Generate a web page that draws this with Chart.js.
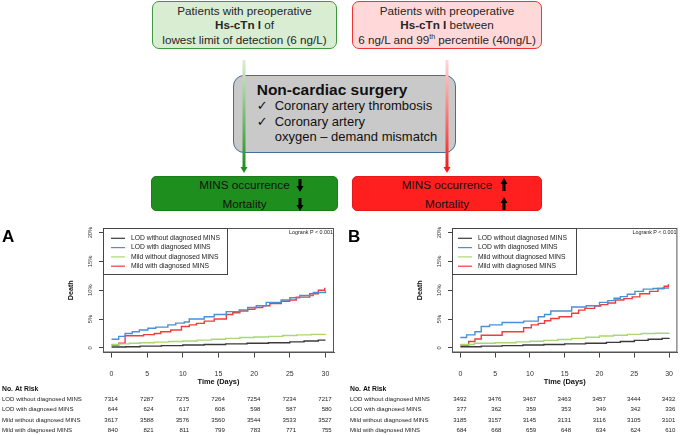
<!DOCTYPE html>
<html>
<head>
<meta charset="utf-8">
<script src="https://cdn.jsdelivr.net/npm/chart.js@4.4.0/dist/chart.umd.min.js"></script>
<style>
  body { margin: 0; background: #fff; font-family: "Liberation Sans", Arial, sans-serif; }
  #page { position: relative; width: 685px; height: 435px; overflow: hidden; }
  .box { position: absolute; box-sizing: border-box; }
  .ln { position: absolute; left: 0; right: 0; text-align: center; white-space: nowrap; font-size: 11.7px; line-height: 14.2px; color: #262626; }
  .mid { position: absolute; white-space: nowrap; color: #111; }
  .res { position: absolute; left: 0; right: 0; text-align: center; white-space: nowrap; font-size: 11.7px; line-height: 16px; color: #111; }
  sup { font-size: 7px; line-height: 0; }
  canvas { position: absolute; top: 225px; }
</style>
</head>
<body>
<div id="page">
  <!-- top diagram -->
  <div class="box" style="left:152px;top:1px;width:185px;height:48px;background:#d9edd3;border:1.3px solid #3c9a3c;border-radius:7px;">
    <div class="ln" style="top:2.3px">Patients with preoperative</div>
    <div class="ln" style="top:16.3px"><b>Hs-cTn I</b> of</div>
    <div class="ln" style="top:30.6px">lowest limit of detection (6 ng/L)</div>
  </div>
  <div class="box" style="left:352px;top:1px;width:190px;height:48px;background:#ffd9d9;border:1.3px solid #ee3535;border-radius:7px;">
    <div class="ln" style="top:2.3px">Patients with preoperative</div>
    <div class="ln" style="top:16.3px"><b>Hs-cTn I</b> between</div>
    <div class="ln" style="top:30.6px">6 ng/L and 99<sup>th</sup> percentile (40ng/L)</div>
  </div>
  <div class="box" style="left:233px;top:75px;width:223px;height:78px;background:#c9c9c9;border:1.3px solid #41709f;border-radius:11px;">
    <div class="mid" style="left:22.7px;top:4.7px;font-size:15.5px;line-height:18px;font-weight:bold;">Non-cardiac surgery</div>
    <div class="mid" style="left:22.7px;top:22px;font-size:13px;line-height:15.5px;font-family:'DejaVu Sans';">✓</div>
    <div class="mid" style="left:40.7px;top:22px;font-size:13px;line-height:15.5px;">Coronary artery thrombosis</div>
    <div class="mid" style="left:22.7px;top:38px;font-size:13px;line-height:15.5px;font-family:'DejaVu Sans';">✓</div>
    <div class="mid" style="left:40.7px;top:38px;font-size:13px;line-height:15.5px;">Coronary artery</div>
    <div class="mid" style="left:40.7px;top:53px;font-size:13px;line-height:15.5px;">oxygen – demand mismatch</div>
  </div>
  <div class="box" style="left:151px;top:176px;width:187px;height:35px;background:#1e8e1e;border:1px solid #1a7d1a;border-radius:5px;">
    <div class="res" style="top:0px">MINS occurrence</div>
    <div class="res" style="top:19px">Mortality</div>
  </div>
  <div class="box" style="left:352px;top:176px;width:190px;height:35px;background:#ff1f1f;border:1px solid #e81818;border-radius:5px;">
    <div class="res" style="top:0px">MINS occurrence</div>
    <div class="res" style="top:19px">Mortality</div>
  </div>
  <svg width="685" height="220" style="position:absolute;left:0;top:0;pointer-events:none;">
    <defs>
      <linearGradient id="gg" x1="0" y1="0" x2="0" y2="1">
        <stop offset="0" stop-color="#d9eed3"/>
        <stop offset="1" stop-color="#1f8f1f"/>
      </linearGradient>
      <linearGradient id="rg" x1="0" y1="0" x2="0" y2="1">
        <stop offset="0" stop-color="#fdd8d8"/>
        <stop offset="1" stop-color="#f21d1d"/>
      </linearGradient>
    </defs>
    <rect x="242.5" y="60" width="3" height="108" fill="url(#gg)"/>
    <polygon points="240.5,167 247.5,167 244,173" fill="#1f8f1f"/>
    <rect x="445.5" y="60" width="3" height="108" fill="url(#rg)"/>
    <polygon points="443.5,167 450.5,167 447,173" fill="#f21d1d"/>
    <g fill="#000">
      <rect x="298.5" y="179" width="3" height="8"/><polygon points="296.5,186 303.5,186 300,192"/>
      <rect x="298.5" y="198" width="3" height="8"/><polygon points="296.5,205 303.5,205 300,211"/>
      <rect x="502.5" y="183" width="3" height="8"/><polygon points="500.5,184 507.5,184 504,178"/>
      <rect x="502.5" y="202" width="3" height="8"/><polygon points="500.5,203 507.5,203 504,197"/>
    </g>
  </svg>

  <canvas id="chartA" width="342" height="210" style="left:0px"></canvas>
  <canvas id="chartB" width="343" height="210" style="left:342px"></canvas>
</div>

<script>
const days = [0, 5, 10, 15, 20, 25, 30];
const yTickPct = [0, 5, 10, 15, 20];
const groupNames = ['LOD without diagnosed MINS', 'LOD with diagnosed MINS', 'Mild without diagnosed MINS', 'Mild with diagnosed MINS'];
const groupColors = ['#3a3a3a', '#4a90d6', '#a9d873', '#f23c3c'];

// panel A - step times (days) and cumulative death (%)
const lodNoTimeA = [0, 2, 4, 7, 10, 13, 16, 19, 22, 25, 27, 29, 30];
const lodNoDeathA = [0.15, 0.2, 0.3, 0.4, 0.5, 0.6, 0.7, 0.8, 0.9, 1.05, 1.2, 1.35, 1.35];
const lodMinsTimeA = [0, 1.0, 1.9, 2.9, 3.9, 5.1, 6.2, 7.9, 9.0, 10.2, 10.9, 13.0, 14.4, 16.1, 17.9, 19.1, 20.3, 21.7, 23.8, 25.0, 26.4, 28.3, 30];
const lodMinsDeathA = [1.5, 2.0, 2.5, 2.8, 3.1, 3.4, 3.6, 4.0, 4.3, 4.5, 5.0, 5.4, 5.8, 6.3, 6.6, 7.0, 7.3, 7.9, 8.3, 8.7, 9.1, 9.6, 9.9];
const mildNoTimeA = [0, 1, 2.5, 4, 6, 8, 10, 12, 14, 16, 18, 20, 22, 24, 26, 28, 30];
const mildNoDeathA = [0.6, 0.7, 0.8, 0.9, 1.0, 1.1, 1.2, 1.35, 1.5, 1.65, 1.8, 1.9, 2.0, 2.15, 2.25, 2.35, 2.4];
const mildMinsTimeA = [0, 1.0, 1.9, 4.5, 6.0, 6.9, 8.3, 9.8, 10.9, 11.9, 13.0, 14.4, 16.1, 17.0, 18.0, 19.1, 20.1, 21.2, 22.2, 23.8, 25.0, 25.9, 27.8, 29.0, 29.9, 30];
const mildMinsDeathA = [0.5, 0.8, 2.1, 2.3, 2.5, 2.8, 3.1, 3.7, 4.0, 4.25, 4.65, 5.0, 5.8, 6.1, 6.4, 6.7, 7.0, 7.3, 7.7, 8.1, 8.3, 8.8, 9.4, 10.0, 10.3, 10.3];

// panel B
const lodNoTimeB = [0, 3, 6, 9, 12, 15, 18, 21, 23, 25, 27, 29, 30];
const lodNoDeathB = [0.2, 0.3, 0.4, 0.5, 0.6, 0.7, 0.8, 0.95, 1.1, 1.3, 1.5, 1.65, 1.7];
const lodMinsTimeB = [0, 0.9, 2.1, 3.0, 4.2, 6.0, 9.1, 11.2, 12.1, 13.0, 16.0, 18.1, 20.0, 21.2, 22.1, 23.0, 24.0, 25.1, 26.3, 27.7, 29.1, 30];
const lodMinsDeathB = [1.8, 2.25, 2.8, 3.7, 4.0, 4.4, 4.65, 5.4, 5.8, 6.4, 7.1, 7.3, 7.9, 8.2, 8.6, 8.9, 9.3, 9.8, 10.2, 10.3, 10.4, 10.4];
const mildNoTimeB = [0, 2, 5, 8, 10, 12, 14, 16, 18, 20, 22, 24, 26, 28, 30];
const mildNoDeathB = [0.6, 0.8, 0.9, 1.05, 1.15, 1.3, 1.45, 1.65, 1.85, 2.05, 2.2, 2.35, 2.5, 2.55, 2.6];
const mildMinsTimeB = [0, 1.2, 2.1, 3.0, 6.0, 9.1, 10.2, 11.2, 12.1, 13.0, 14.2, 16.0, 17.0, 17.9, 19.3, 20.2, 21.2, 22.3, 23.5, 24.7, 25.8, 27.2, 28.4, 29.3, 29.9, 30];
const mildMinsDeathB = [0.5, 1.1, 1.55, 2.2, 2.8, 3.5, 4.0, 4.25, 4.7, 5.1, 5.4, 6.0, 6.55, 6.85, 7.25, 7.5, 7.8, 8.3, 8.55, 8.85, 9.4, 9.8, 10.3, 10.7, 10.9, 10.9];

// number at risk
const riskA = [
    [7314, 7287, 7275, 7264, 7254, 7234, 7217],
    [644, 624, 617, 608, 598, 587, 580],
    [3617, 3588, 3576, 3560, 3544, 3533, 3527],
    [840, 821, 811, 799, 783, 771, 755]
];
const riskB = [
    [3492, 3476, 3467, 3463, 3457, 3444, 3432],
    [377, 362, 359, 353, 349, 342, 336],
    [3185, 3157, 3145, 3131, 3116, 3105, 3101],
    [684, 668, 659, 648, 634, 624, 610]
];

const FONT = '"Liberation Sans", Arial, sans-serif';

function steps(times, vals) {
    return times.map((t, i) => ({ x: t, y: vals[i] }));
}

// pick a font size so that a sample string has the width seen in the figure
function fitFont(ctx, sample, width, weight) {
    const w = weight ? weight + ' ' : '';
    ctx.font = w + '10px ' + FONT;
    const size = 10 * width / ctx.measureText(sample).width;
    ctx.font = w + size.toFixed(2) + 'px ' + FONT;
}

// draws frame, legend, rotated y labels, titles and the risk table
const kmExtras = {
    id: 'kmExtras',
    afterDraw(chart, args, opts) {
        const ctx = chart.ctx;
        const area = chart.chartArea;
        const xs = chart.scales.x;
        const ys = chart.scales.y;
        ctx.save();

        ctx.strokeStyle = '#555';
        ctx.lineWidth = 1;
        ctx.strokeRect(area.left + 0.5, area.top + 0.5, area.right - area.left - 1, area.bottom - area.top - 1);

        // legend
        const lx = area.left, ly = area.top, lw = 124, lh = 46;
        ctx.fillStyle = '#fff';
        ctx.fillRect(lx + 0.5, ly + 0.5, lw, lh);
        ctx.strokeStyle = '#444';
        ctx.strokeRect(lx + 0.5, ly + 0.5, lw, lh);
        fitFont(ctx, groupNames[0], 89);
        ctx.textAlign = 'left';
        ctx.textBaseline = 'middle';
        chart.data.datasets.forEach((ds, i) => {
            const y = ly + 10.3 + i * 9.3;
            ctx.strokeStyle = ds.borderColor;
            ctx.lineWidth = 1.2;
            ctx.beginPath();
            ctx.moveTo(lx + opts.legLine, y);
            ctx.lineTo(lx + opts.legLine + 14, y);
            ctx.stroke();
            ctx.fillStyle = '#222';
            ctx.fillText(ds.label, lx + opts.legLine + 20, y);
        });

        // logrank
        fitFont(ctx, 'Logrank P < 0.001', 44);
        ctx.textAlign = 'right';
        ctx.fillStyle = '#222';
        ctx.fillText('Logrank P < 0.001', area.right - 1, area.top + 5);

        // y tick labels, rotated like R
        fitFont(ctx, '10%', 11.5);
        ctx.textAlign = 'center';
        ctx.fillStyle = '#333';
        yTickPct.forEach(v => {
            ctx.save();
            ctx.translate(area.left - 12.5, ys.getPixelForValue(v));
            ctx.rotate(-Math.PI / 2);
            ctx.fillText(v === 0 ? '0' : v + '%', 0, 0);
            ctx.restore();
        });

        ctx.save();
        fitFont(ctx, 'Death', 20, 'bold');
        ctx.fillStyle = '#111';
        ctx.translate(area.left - 32, ys.getPixelForValue(10));
        ctx.rotate(-Math.PI / 2);
        ctx.fillText('Death', 0, 0);
        ctx.restore();

        // panel letter
        ctx.font = 'bold 17px ' + FONT;
        ctx.textAlign = 'left';
        ctx.fillStyle = '#000';
        ctx.fillText(opts.letter, opts.letterX, 12);

        fitFont(ctx, 'Time (Days)', 42, 'bold');
        ctx.textAlign = 'center';
        ctx.fillStyle = '#111';
        ctx.fillText('Time (Days)', xs.getPixelForValue(15), area.bottom + 29.5);

        // risk table
        ctx.textAlign = 'left';
        fitFont(ctx, 'No. At Risk', 36.5, 'bold');
        ctx.fillText('No. At Risk', opts.tableX, area.bottom + 36.5);
        fitFont(ctx, groupNames[0], 80);
        ctx.fillStyle = '#222';
        opts.risk.forEach((row, r) => {
            const y = area.bottom + 46.8 + r * 10.5;
            ctx.textAlign = 'left';
            ctx.fillText(groupNames[r], opts.tableX, y);
            ctx.textAlign = 'right';
            row.forEach((n, k) => {
                ctx.fillText(String(n), xs.getPixelForValue(days[k]) + 6.3, y);
            });
        });
        ctx.restore();
    }
};

function makeChart(id, series, extras, yAxisW, padRight) {
    const datasets = series.map((s, i) => ({
        label: groupNames[i],
        data: steps(s[0], s[1]),
        borderColor: groupColors[i],
        borderWidth: 1.4,
        stepped: true,
        pointRadius: 0,
        fill: false
    }));
    return new Chart(document.getElementById(id), {
        type: 'line',
        data: { datasets: datasets },
        plugins: [kmExtras],
        options: {
            responsive: false,
            animation: false,
            devicePixelRatio: 1,
            layout: { padding: { top: 3, right: padRight, left: 0, bottom: 0 } },
            plugins: {
                legend: { display: false },
                tooltip: { enabled: false },
                kmExtras: extras
            },
            scales: {
                x: {
                    type: 'linear',
                    min: -1.2,
                    max: 31.2,
                    afterBuildTicks: s => { s.ticks = days.map(v => ({ value: v })); },
                    afterFit: s => { s.height = 82.5; },
                    grid: { drawOnChartArea: false, tickLength: 5, tickColor: '#444' },
                    border: { color: '#555' },
                    ticks: { padding: 12, color: '#333', autoSkip: false, maxRotation: 0, font: { size: 7, family: FONT } }
                },
                y: {
                    type: 'linear',
                    min: -0.8,
                    max: 20.8,
                    afterBuildTicks: s => { s.ticks = yTickPct.map(v => ({ value: v })); },
                    afterFit: s => { s.width = yAxisW; },
                    grid: { drawOnChartArea: false, tickLength: 4, tickColor: '#444' },
                    border: { color: '#555' },
                    ticks: { display: false }
                }
            }
        }
    });
}

makeChart('chartA', [
    [lodNoTimeA, lodNoDeathA],
    [lodMinsTimeA, lodMinsDeathA],
    [mildNoTimeA, mildNoDeathA],
    [mildMinsTimeA, mildMinsDeathA]
], { letter: 'A', letterX: 2, tableX: 2, legLine: 8, risk: riskA }, 103, 8);

makeChart('chartB', [
    [lodNoTimeB, lodNoDeathB],
    [lodMinsTimeB, lodMinsDeathB],
    [mildNoTimeB, mildNoDeathB],
    [mildMinsTimeB, mildMinsDeathB]
], { letter: 'B', letterX: 6, tableX: 8, legLine: 6, risk: riskB }, 110, 1.5);
</script>
</body>
</html>
